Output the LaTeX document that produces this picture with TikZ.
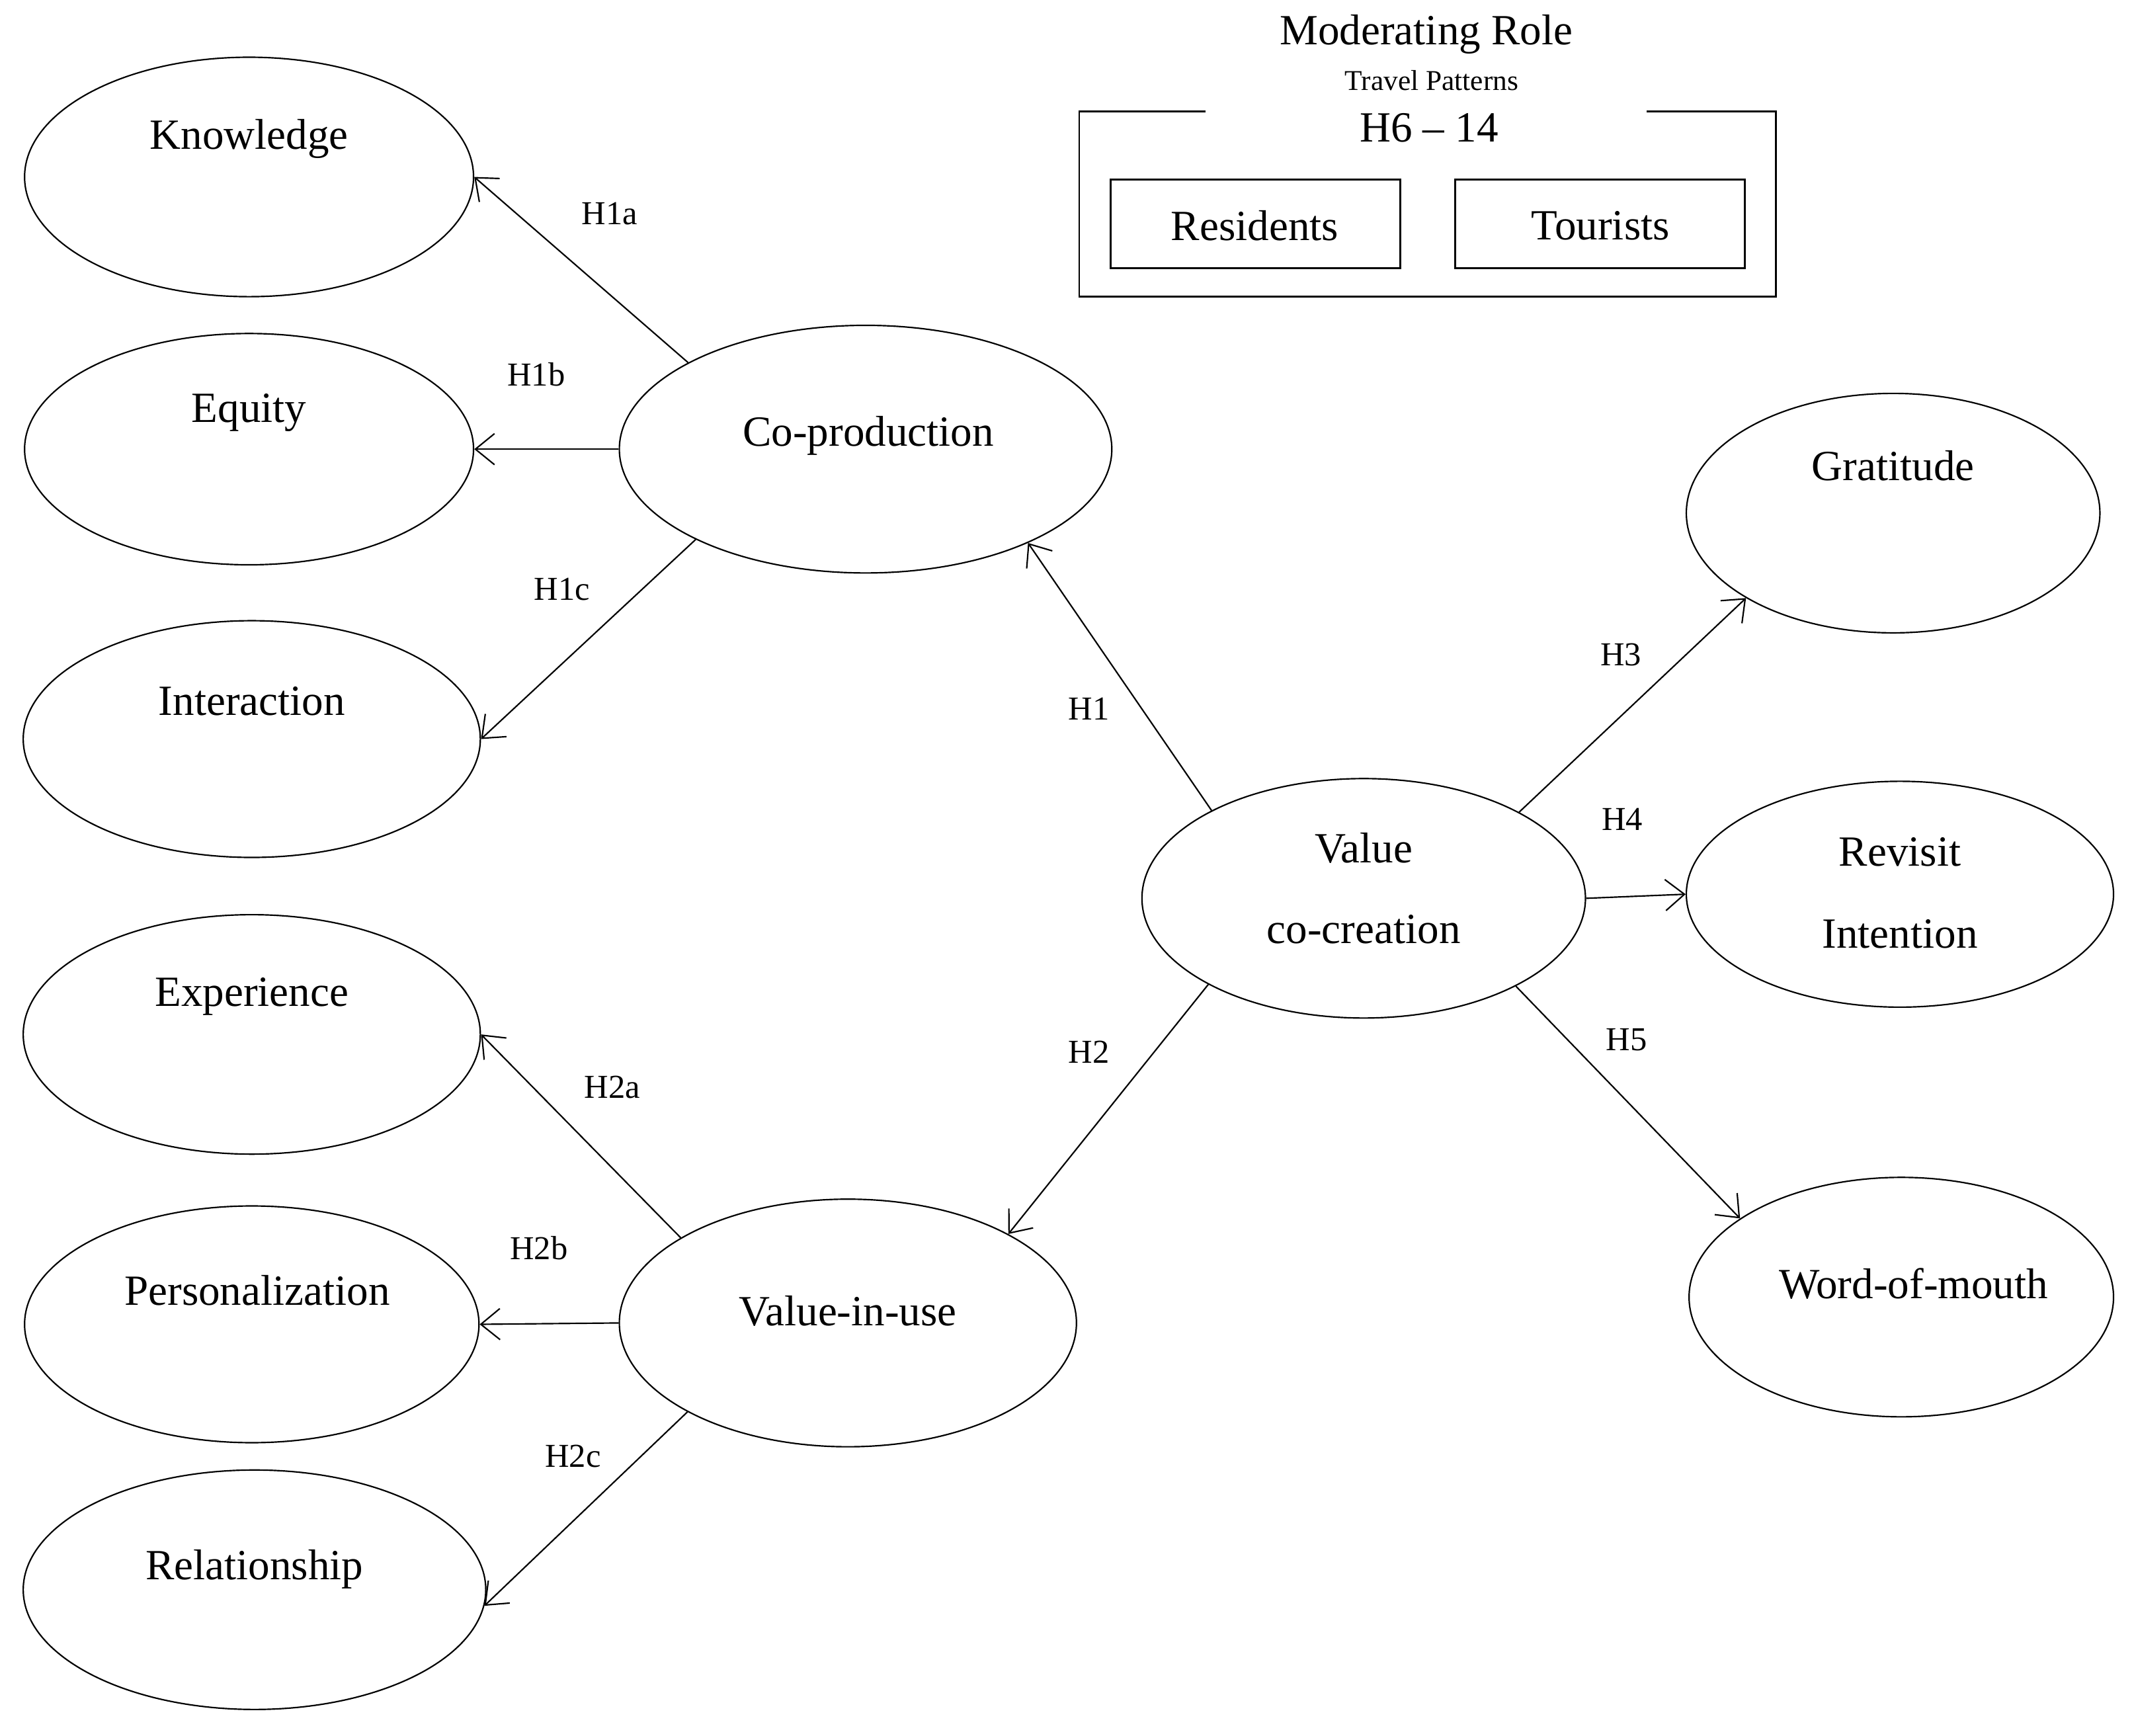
\documentclass[tikz,border=0pt]{standalone}
\usepackage{fontspec}
\setmainfont{Liberation Serif}
\usetikzlibrary{shapes.geometric,arrows.meta}
\begin{document}
\begin{tikzpicture}[x=0.02cm,y=-0.02cm,
  el/.style={draw,ellipse,inner sep=0,line width=0.6pt},
  txt/.style={font=\fontsize{18}{20}\selectfont,inner sep=0},
  lab/.style={font=\fontsize{14}{16}\selectfont,inner sep=0},
  arr/.style={line width=0.6pt,-{Straight Barb[length=8pt,width=13pt]}},
  box/.style={draw,line width=0.8pt,inner sep=0}]
\useasboundingbox (0,0) rectangle (1568,1275);
\newcommand{\E}[5]{\node[el,minimum width=#4*0.04cm,minimum height=#5*0.04cm] (#1) at (#2,#3) {};}
\E{know}{183}{130}{165}{88}
\E{equi}{183}{330}{165}{85}
\E{inte}{185}{543}{168}{87}
\E{expe}{185}{760}{168}{88}
\E{pers}{185}{973}{167}{87}
\E{rela}{187}{1168}{170}{88}
\E{copr}{636}{330}{181}{91}
\E{viu}{623}{972}{168}{91}
\E{vcc}{1002}{660}{163}{88}
\E{grat}{1391}{377}{152}{88}
\E{revi}{1396}{657}{157}{83}
\E{wom}{1397}{953}{156}{88}
\node[txt] (tknow) at (183,102) {Knowledge};
\node[txt] (tequi) at (183,303) {Equity};
\node[txt] (tinte) at (185,515) {Interaction};
\node[txt] (texpe) at (185,732) {Experience};
\node[txt] (tpers) at (189,948) {Personalization};
\node[txt] (trela) at (187,1153) {Relationship};
\node[txt] (tcopr) at (638,320) {Co-production};
\node[txt] (tviu) at (623,963) {Value-in-use};
\node[txt] (tvcc1) at (1002,623) {Value};
\node[txt] (tvcc2) at (1002,683) {co-creation};
\node[txt] (tgrat) at (1391,342) {Gratitude};
\node[txt] (trev1) at (1396,626) {Revisit};
\node[txt] (trev2) at (1396,686) {Intention};
\node[txt] (twom) at (1406,943) {Word-of-mouth};
% moderating box
\draw[line width=0.8pt] (886,82) -- (793,82) -- (793,218) -- (1305,218) -- (1305,82) -- (1210,82);
\node[box,minimum width=213*0.02cm,minimum height=65*0.02cm] (res) at (922.5,164.5) {};
\node[box,minimum width=213*0.02cm,minimum height=65*0.02cm] (tou) at (1175.5,164.5) {};
\node[txt] (tres) at (922,166) {Residents};
\node[txt] (ttou) at (1176,166) {Tourists};
\node[txt] (tmod) at (1048,25) {Moderating Role};
\node[font=\fontsize{12}{14}\selectfont,inner sep=0] (ttra) at (1052,59) {Travel Patterns};
\node[txt] (th6) at (1050,94) {H6 -- 14};
% arrows
\draw[arr] (copr.154) -- (know.east);
\draw[arr] (copr.west) -- (equi.east);
\draw[arr] (copr.208) -- (inte.east);
\draw[arr] (vcc.150) -- (copr.330);
\draw[arr] (vcc.209) -- (viu.29);
\draw[arr] (vcc.29) -- (grat.210);
\draw[arr] (vcc.east) -- (revi.west);
\draw[arr] (vcc.330) -- (wom.154);
\draw[arr] (viu.153) -- (expe.east);
\draw[arr] (viu.west) -- (pers.east);
\draw[arr] (viu.209) -- (rela.356);
% labels
\node[lab] (l1a) at (448,157) {H1a};
\node[lab] (l1b) at (394,275) {H1b};
\node[lab] (l1c) at (413,433) {H1c};
\node[lab] (l1) at (800,521) {H1};
\node[lab] (l2) at (800,773) {H2};
\node[lab] (l2a) at (450,799) {H2a};
\node[lab] (l2b) at (396,917) {H2b};
\node[lab] (l2c) at (421,1070) {H2c};
\node[lab] (l3) at (1191,481) {H3};
\node[lab] (l4) at (1192,602) {H4};
\node[lab] (l5) at (1195,764) {H5};
\end{tikzpicture}
\end{document}
